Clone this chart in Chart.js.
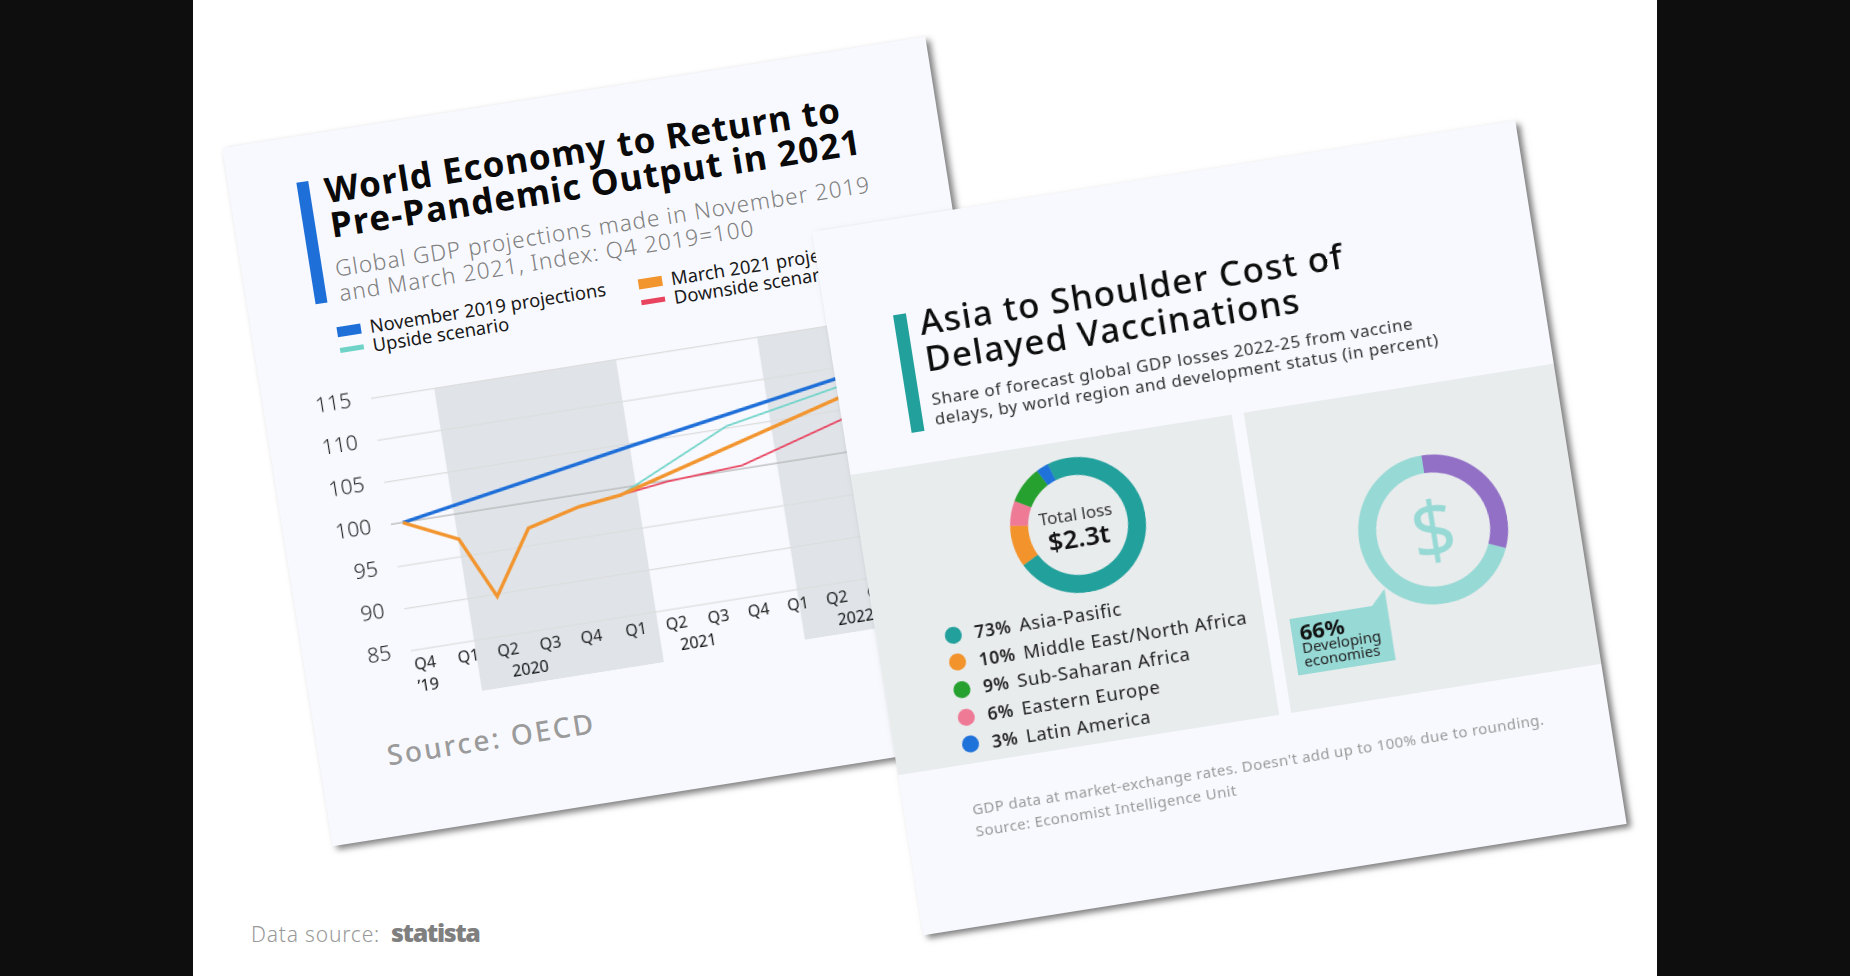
<!DOCTYPE html>
<html lang="en">
<head>
<meta charset="UTF-8">
<title>World Economy to Return to Pre-Pandemic Output in 2021</title>
<script src="https://cdn.jsdelivr.net/npm/chart.js"></script>
<style>
  html, body { margin:0; padding:0; width:1850px; height:976px; overflow:hidden; background:#fff; font-family:"Noto Sans", sans-serif; }
  .side { position:absolute; top:0; bottom:0; width:193px; background:#0e0e0e; }
  .card { position:absolute; background:#f8f9fe; transform-origin:0 0; transform:rotate(-9deg); box-shadow:4px 4px 6px rgba(0,0,0,.5); }
  .abs { position:absolute; white-space:nowrap; }
  canvas { position:absolute; }
  .panel { position:absolute; top:246px; height:304px; background:#e9eced; }
  .dot { position:absolute; width:17px; height:17px; border-radius:50%; }
</style>
</head>
<body>
<div class="side" style="left:0"></div>
<div class="side" style="left:1657px"></div>

<!-- first card: line chart -->
<div class="card" style="left:222px; top:148px; width:712px; height:707px;">
  <div class="abs" style="left:68px; top:46px; width:12px; height:123px; background:#1f6fd8;"></div>
  <div class="abs" style="left:95px; top:40px; font-size:35px; line-height:35px; font-weight:700; letter-spacing:1.15px; color:#0a0a0a;">World Economy to Return to<br>Pre-Pandemic Output in 2021</div>
  <div class="abs" style="left:93px; top:124px; font-size:22.5px; line-height:25px; font-weight:300; letter-spacing:1.05px; color:#808080;">Global GDP projections made in November 2019<br>and March 2021, Index: Q4 2019=100</div>
  <div id="lineLegend"></div>
  <canvas id="lineChart" style="left:30px; top:238px;"></canvas>
  <div class="abs" style="left:68px; top:605px; font-size:28px; line-height:40px; font-weight:500; letter-spacing:2.4px; color:#9b9b9b;">Source: OECD</div>
</div>

<!-- second card: doughnuts -->
<div class="card" style="left:812px; top:232px; width:712px; height:712px;">
  <div class="abs" style="left:67px; top:94.5px; width:12.5px; height:119px; background:#22a09c;"></div>
  <div class="abs" style="left:92px; top:87px; font-size:35px; line-height:37px; font-weight:500; letter-spacing:1.25px; color:#0d0d0d;">Asia to Shoulder Cost of<br>Delayed Vaccinations</div>
  <div class="abs" style="left:92px; top:174px; font-size:17px; line-height:20px; letter-spacing:.55px; color:#333;">Share of forecast global GDP losses 2022-25 from vaccine<br>delays, by world region and development status (in percent)</div>
  <div class="panel" style="left:0; width:386px;"></div>
  <div class="panel" style="left:398px; width:314px;"></div>

  <canvas id="regionChart" style="left:149px; top:263px;"></canvas>
  <div class="abs" style="left:166px; top:308px; width:100px; text-align:center; font-size:17px; line-height:24px; color:#333;">Total loss</div>
  <div class="abs" style="left:166px; top:325px; width:100px; text-align:center; font-size:26px; line-height:36px; font-weight:600; color:#111;">$2.3t</div>
  <div id="regionLegend"></div>

  <canvas id="devChart" style="left:492px; top:316px;"></canvas>
  <div class="abs" style="left:507px; top:337px; width:120px; text-align:center; font-size:78px; line-height:106px; font-weight:400; color:#97d9d5;">$</div>
  <div class="abs" style="left:410.6px; top:442px; width:99px; height:72px; background:#97d9d5; clip-path:polygon(0 15px, 84px 15px, 99px 0, 99px 72px, 0 72px);"></div>
  <div class="abs" style="left:419px; top:456px; font-size:22px; line-height:30px; font-weight:700; color:#111;">66%</div>
  <div class="abs" style="left:419px; top:480px; font-size:15px; line-height:14px; color:#222;">Developing<br>economies</div>

  <div class="abs" style="left:68px; top:584px; font-size:15px; line-height:22px; letter-spacing:.42px; color:#9a9a9a;">GDP data at market-exchange rates. Doesn't add up to 100% due to rounding.<br>Source: Economist Intelligence Unit</div>
</div>

<div class="abs" style="left:251px; top:919px; font-size:21px; line-height:30px; font-weight:300; letter-spacing:.8px; color:#999;">Data source:</div>
<div class="abs" style="left:391px; top:915px; font-size:25px; line-height:34px; font-weight:900; letter-spacing:-1.4px; color:#7f7f7f;">statista</div>

<script>
// y axis
const yTicks = [85, 90, 95, 100, 105, 110, 115];

// x axis, in quarters after Q4 2019 (labels are not evenly spaced in the original)
const quarterLabels = ['Q4', 'Q1', 'Q2', 'Q3', 'Q4', 'Q1', 'Q2', 'Q3', 'Q4', 'Q1', 'Q2', 'Q3', 'Q4'];
const quarterTicks = [0, 1.06, 2.03, 3.06, 4.06, 5.15, 6.14, 7.16, 8.14, 9.1, 10.05, 11.05, 12.05];
const yearLabels = ['\u201919', '2020', '2021', '2022'];
const yearTicks = [0, 2.49, 6.59, 10.43];
const bandStart = [1.25, 9.13];
const bandEnd = [5.69, 13.57];

// series
const nov2019X = [0, 5.72, 10.8, 13.8];
const nov2019Y = [100, 104.7, 108.7, 111.1];
const march2021X = [0, 1.27, 1.97, 2.97, 4.25, 5.29, 10.8, 13.8];
const march2021Y = [100, 97.05, 89.7, 97.05, 98.6, 99.2, 106.4, 110.3];
const upsideX = [5.29, 8.07, 10.8, 13.8];
const upsideY = [99.2, 105.25, 107.7, 110.4];
const downsideX = [5.29, 6.45, 8.29, 10.83, 13.8];
const downsideY = [99.2, 99.9, 100.4, 103.9, 107.6];

// doughnuts
const regionNames = ['Asia-Pasific', 'Middle East/North Africa', 'Eastern Europe', 'Sub-Saharan Africa', 'Latin America'];
const regionShares = [73, 10, 6, 9, 3];
const regionColors = ['#22a09c', '#f2932b', '#ee7a96', '#26a02f', '#1f72d9'];
const legendOrder = [0, 1, 3, 2, 4];
const devNames = ['Advanced economies', 'Developing economies'];
const devArcs = [31.5, 68.5]; // as drawn, the label in the original says 66%
const devColors = ['#9170c6', '#97d9d5'];

function points(xs, ys) {
  return xs.map((x, i) => ({ x: x, y: ys[i] }));
}

// grey year bands behind the grid
const bandPlugin = {
  id: 'bands',
  beforeDraw(chart) {
    const x = chart.scales.x;
    const ctx = chart.ctx;
    ctx.save();
    ctx.fillStyle = '#e0e4e9';
    bandStart.forEach((start, i) => {
      const left = x.getPixelForValue(start);
      ctx.fillRect(left, chart.chartArea.top, x.getPixelForValue(bandEnd[i]) - left, chart.height - chart.chartArea.top);
    });
    ctx.restore();
  }
};

const lineCanvas = document.getElementById('lineChart');
lineCanvas.width = 682;
lineCanvas.height = 339;

const lineSeries = [
  { label: 'March 2021 projections', xs: march2021X, ys: march2021Y, color: '#f2952f', width: 3.5 },
  { label: 'November 2019 projections', xs: nov2019X, ys: nov2019Y, color: '#1f6fd8', width: 3.5 },
  { label: 'Upside scenario', xs: upsideX, ys: upsideY, color: '#6fd3c8', width: 1.8 },
  { label: 'Downside scenario', xs: downsideX, ys: downsideY, color: '#e8435f', width: 1.8 }
];

new Chart(lineCanvas, {
  type: 'line',
  data: {
    datasets: lineSeries.map(s => ({
      label: s.label,
      data: points(s.xs, s.ys),
      borderColor: s.color,
      borderWidth: s.width,
      pointRadius: 0,
      tension: 0,
      fill: false
    }))
  },
  options: {
    responsive: false,
    animation: false,
    devicePixelRatio: 2,
    layout: { autoPadding: false, padding: { top: 10 } },
    plugins: { legend: { display: false }, tooltip: { enabled: false } },
    scales: {
      x: {
        type: 'linear',
        min: -0.29,
        max: 14.27,
        weight: 0,
        afterFit(scale) { scale.height = 27; },
        afterBuildTicks(scale) { scale.ticks = quarterTicks.map(v => ({ value: v })); },
        grid: { display: false, drawTicks: false },
        border: { display: false },
        ticks: {
          autoSkip: false, maxRotation: 0, padding: 6, color: '#222',
          font: { family: 'Noto Sans', size: 16 },
          callback: (value, index) => quarterLabels[index]
        }
      },
      years: {
        type: 'linear',
        axis: 'x',
        position: 'bottom',
        min: -0.29,
        max: 14.27,
        weight: 1,
        afterFit(scale) { scale.height = 24; },
        afterBuildTicks(scale) { scale.ticks = yearTicks.map(v => ({ value: v })); },
        grid: { display: false, drawTicks: false },
        border: { display: false },
        ticks: {
          autoSkip: false, maxRotation: 0, padding: 1, color: '#111',
          font: { family: 'Noto Sans', size: 16 },
          callback: (value, index) => yearLabels[index]
        }
      },
      y: {
        min: 85,
        max: 115,
        afterFit(scale) { scale.width = 78; },
        afterBuildTicks(scale) { scale.ticks = yTicks.map(v => ({ value: v })); },
        grid: {
          drawTicks: false,
          lineWidth: 1.2,
          color: ctx => ctx.tick.value === 100 ? '#b5b5b5' : '#dcdcdc'
        },
        border: { display: false },
        ticks: { padding: 20, color: '#222', font: { family: 'Noto Sans', size: 21, weight: '300' } }
      }
    }
  },
  plugins: [bandPlugin]
});

// legend of the line chart, two columns
const lineLegend = document.getElementById('lineLegend');
[[1, 85, 199.6], [0, 390, 199.6], [2, 85, 218.6], [3, 390, 218.6]].forEach(item => {
  const s = lineSeries[item[0]];
  const h = s.width > 2 ? 10 : 5;
  lineLegend.insertAdjacentHTML('beforeend',
    '<div class="abs" style="left:' + item[1] + 'px; top:' + (item[2] - h / 2) + 'px; width:24px; height:' + h + 'px; background:' + s.color + ';"></div>' +
    '<div class="abs" style="left:' + (item[1] + 33) + 'px; top:' + (item[2] - 12) + 'px; font-size:18.4px; line-height:22px; color:#1a1a1a;">' + s.label + '</div>');
});

function doughnut(id, size, labels, values, colors, cutout, rotation) {
  const canvas = document.getElementById(id);
  canvas.width = size;
  canvas.height = size;
  new Chart(canvas, {
    type: 'doughnut',
    data: { labels: labels, datasets: [{ data: values, backgroundColor: colors, borderWidth: 0, hoverOffset: 0, offset: 0 }] },
    options: {
      responsive: false,
      animation: false,
      devicePixelRatio: 2,
      cutout: cutout,
      rotation: rotation,
      plugins: { legend: { display: false }, tooltip: { enabled: false } }
    }
  });
}

doughnut('regionChart', 136, regionNames, regionShares, regionColors, '73.5%', -17.6);
doughnut('devChart', 150, devNames, devArcs, devColors, '76%', 0);

// legend of the region doughnut
const regionLegend = document.getElementById('regionLegend');
legendOrder.forEach((idx, row) => {
  const mid = 420 + row * 27.7;
  regionLegend.insertAdjacentHTML('beforeend',
    '<div class="dot" style="left:68px; top:' + (mid - 8.5) + 'px; background:' + regionColors[idx] + ';"></div>' +
    '<div class="abs" style="left:98px; top:' + (mid - 13) + 'px; font-size:18.5px; line-height:26px; letter-spacing:.55px; color:#222;"><b style="font-weight:600; font-size:17.5px; margin-right:8px;">' + regionShares[idx] + '%</b>' + regionNames[idx] + '</div>');
});
</script>
</body>
</html>
